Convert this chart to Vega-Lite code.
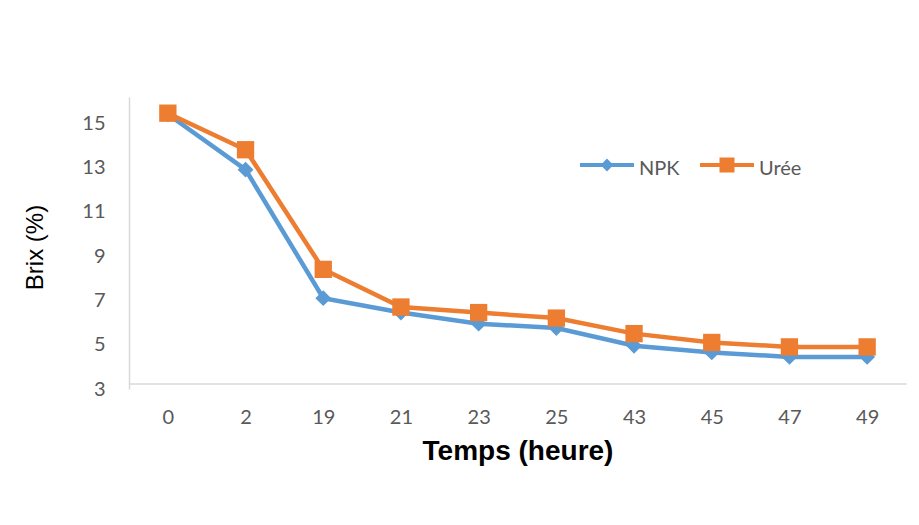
{
  "$schema": "https://vega.github.io/schema/vega-lite/v6.json",
  "autosize": {"type": "none"},
  "padding": {"left": 129, "top": 97, "right": 13, "bottom": 136},
  "width": 777,
  "height": 292,
  "background": "white",
  "config": {"view": {"stroke": null}, "font": "Lato"},
  "data": {"values": [
    {"t": "0", "serie": "NPK", "brix": 15.4},
    {"t": "2", "serie": "NPK", "brix": 12.9},
    {"t": "19", "serie": "NPK", "brix": 7.1},
    {"t": "21", "serie": "NPK", "brix": 6.45},
    {"t": "23", "serie": "NPK", "brix": 5.95},
    {"t": "25", "serie": "NPK", "brix": 5.75},
    {"t": "43", "serie": "NPK", "brix": 4.95},
    {"t": "45", "serie": "NPK", "brix": 4.65},
    {"t": "47", "serie": "NPK", "brix": 4.45},
    {"t": "49", "serie": "NPK", "brix": 4.45},
    {"t": "0", "serie": "Urée", "brix": 15.45},
    {"t": "2", "serie": "Urée", "brix": 13.8},
    {"t": "19", "serie": "Urée", "brix": 8.4},
    {"t": "21", "serie": "Urée", "brix": 6.7},
    {"t": "23", "serie": "Urée", "brix": 6.45},
    {"t": "25", "serie": "Urée", "brix": 6.2},
    {"t": "43", "serie": "Urée", "brix": 5.5},
    {"t": "45", "serie": "Urée", "brix": 5.1},
    {"t": "47", "serie": "Urée", "brix": 4.9},
    {"t": "49", "serie": "Urée", "brix": 4.9}
  ]},
  "encoding": {
    "x": {
      "field": "t", "type": "ordinal",
      "sort": ["0", "2", "19", "21", "23", "25", "43", "45", "47", "49"],
      "scale": {"type": "point", "padding": 0.5},
      "axis": {
        "title": "Temps (heure)",
        "offset": -5.4,
        "labelAngle": 0,
        "labelFont": "Lato", "labelFontSize": 20, "labelColor": "#595959",
        "labelPadding": 24,
        "ticks": false, "tickSize": 0,
        "domainColor": "#D9D9D9", "domainWidth": 1.5,
        "grid": false,
        "titleFont": "Liberation Sans", "titleFontSize": 28, "titleFontWeight": "bold", "titleColor": "#000000",
        "titleBaseline": "middle", "titleY": 68
      }
    },
    "y": {
      "field": "brix", "type": "quantitative",
      "scale": {"domain": [3, 16.18], "nice": false, "zero": false},
      "axis": {
        "title": "Brix (%)",
        "values": [3, 5, 7, 9, 11, 13, 15],
        "labelFont": "Lato", "labelFontSize": 20, "labelColor": "#595959",
        "labelPadding": 24,
        "ticks": false, "tickSize": 0,
        "domainColor": "#D9D9D9", "domainWidth": 1.5,
        "grid": false,
        "titleFont": "Liberation Sans", "titleFontSize": 24, "titleFontWeight": "normal", "titleColor": "#000000",
        "titleBaseline": "middle", "titleX": -94, "titleY": 150
      }
    },
    "color": {
      "field": "serie", "type": "nominal",
      "scale": {"domain": ["NPK", "Urée"], "range": ["#5B9BD5", "#ED7D31"]},
      "legend": {
        "title": null,
        "orient": "none",
        "legendX": 441,
        "legendY": 58,
        "direction": "horizontal",
        "labelFont": "Lato", "labelFontSize": 20, "labelColor": "#595959",
        "symbolSize": 4,
        "symbolOffset": 27,
        "labelOffset": 22,
        "columnPadding": 10,
        "encode": {
          "symbols": {
            "update": {
              "shape": {"signal": "datum.value === 'NPK' ? 'M-27,0L27,0M0,-3.6L3.6,0L0,3.6L-3.6,0Z' : 'M-27,0L27,0M-5.5,-5.5L5.5,-5.5L5.5,5.5L-5.5,5.5Z'"},
              "size": {"value": 4},
              "fill": {"scale": "color", "field": "value"},
              "stroke": {"scale": "color", "field": "value"},
              "strokeWidth": {"value": 4},
              "opacity": {"value": 1}
            }
          },
          "labels": {
            "update": {
              "dy": {"value": 4}
            }
          }
        }
      }
    }
  },
  "layer": [
    {"mark": {"type": "line", "strokeWidth": 4.5}},
    {
      "transform": [{"filter": "datum.serie === 'NPK'"}],
      "mark": {"type": "point", "filled": true, "opacity": 1, "shape": "diamond", "size": 250}
    },
    {
      "transform": [{"filter": "datum.serie === 'Urée'"}],
      "mark": {"type": "point", "filled": true, "opacity": 1, "shape": "square", "size": 300}
    }
  ]
}
